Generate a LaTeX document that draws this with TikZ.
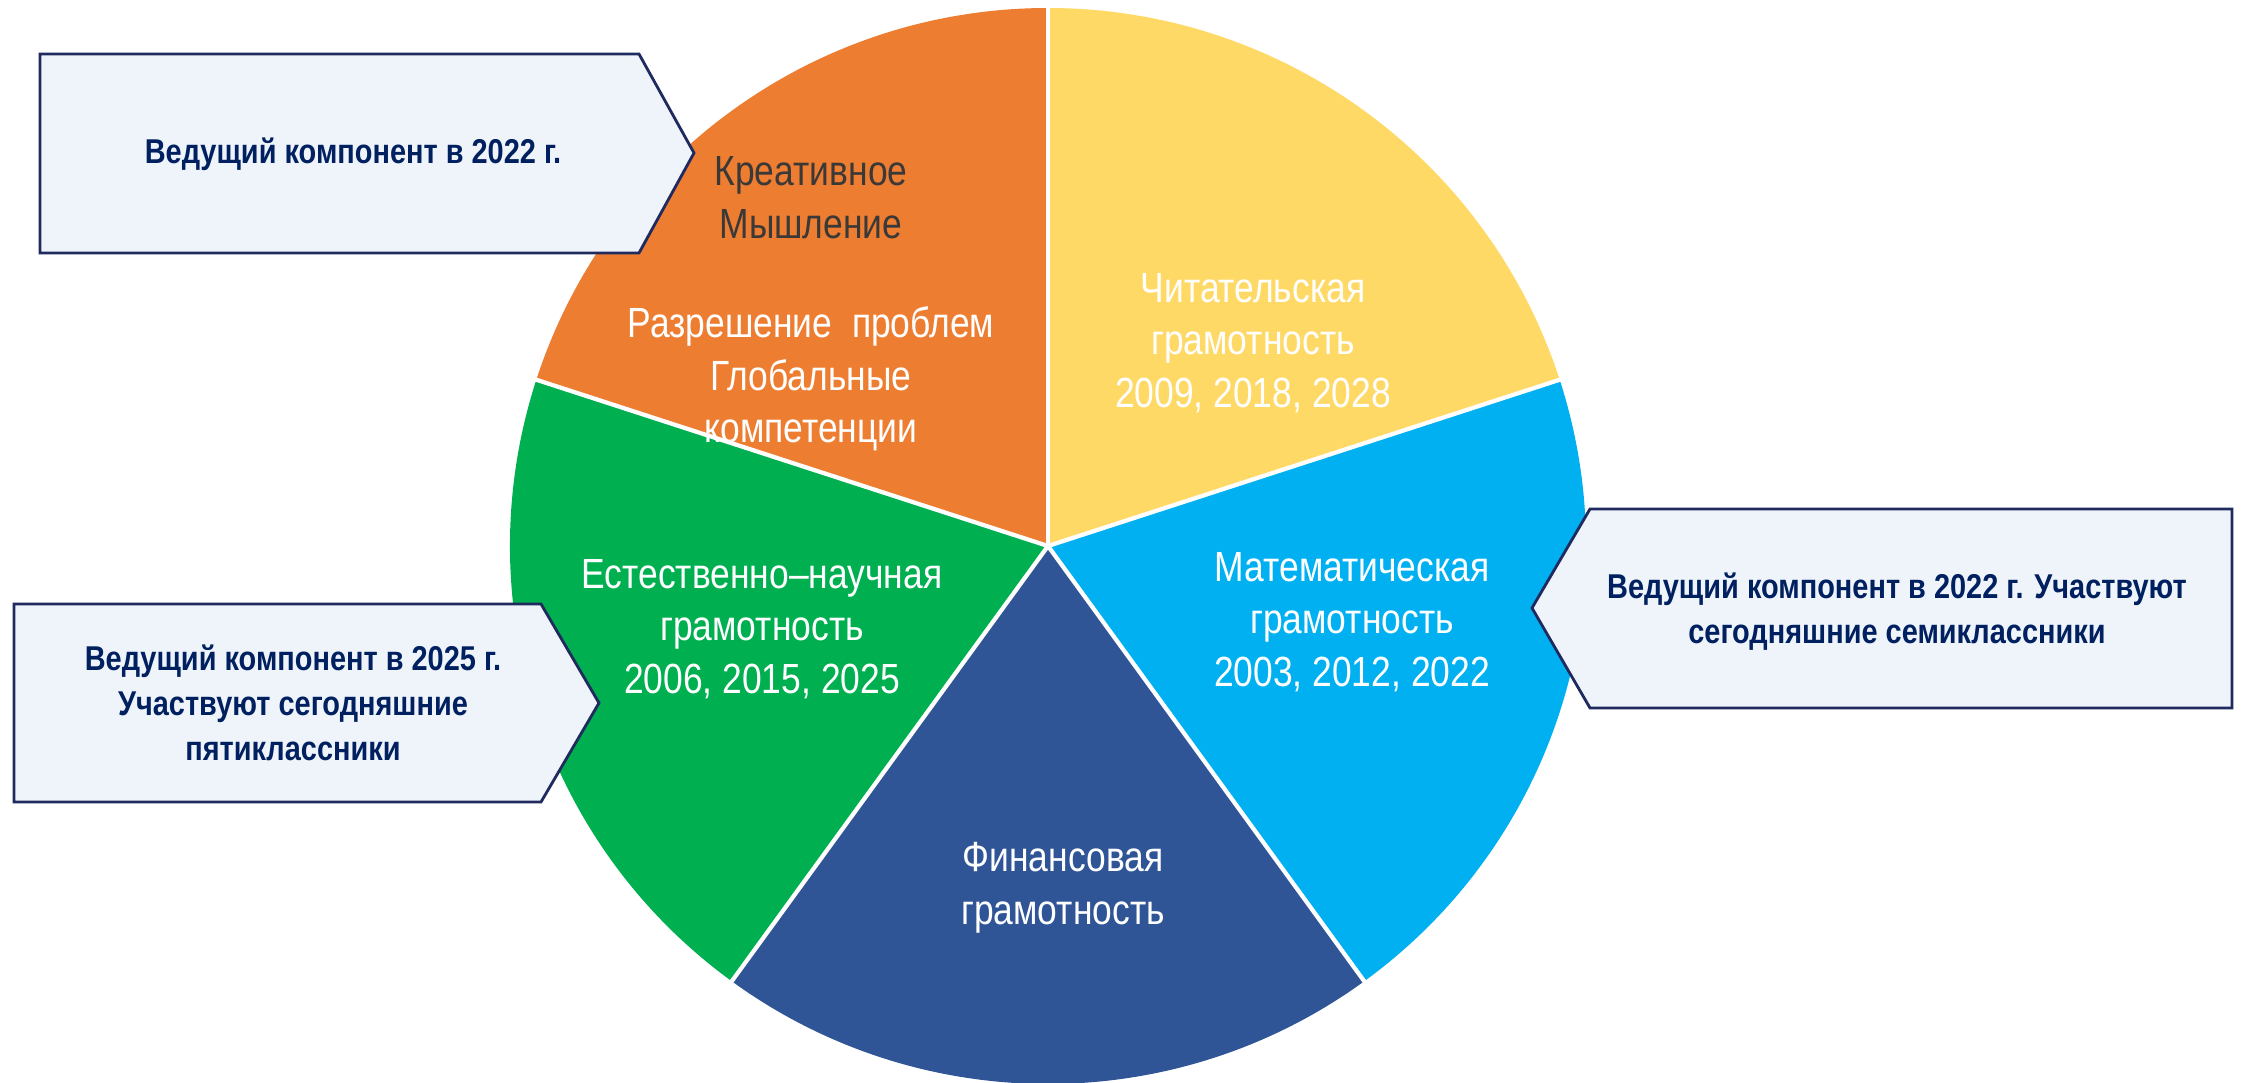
\documentclass[tikz,border=0pt]{standalone}
\usepackage{fontspec}
\setmainfont{Liberation Sans}[FakeStretch=0.84]
\usepackage{tikz}
\usepackage{color}

\definecolor{kreaorange}{HTML}{ED7D31}
\definecolor{chityellow}{HTML}{FFD966}
\definecolor{mathblue}{HTML}{00B0F0}
\definecolor{finblue}{HTML}{2F5597}
\definecolor{sciegreen}{HTML}{00B050}
\definecolor{calloutfill}{HTML}{EFF4FB}
\definecolor{navyline}{HTML}{1F2A5E}
\definecolor{navytext}{HTML}{002060}
\definecolor{darkgraytext}{HTML}{3B3838}

\tikzset{
  sectortext/.style={text=white, align=center, font=\fontsize{12}{15}\selectfont},
  callout/.style={draw=navyline, fill=calloutfill, line width=0.8pt, line join=miter},
  callouttext/.style={text=navytext, align=center, font=\bfseries\fontsize{9.8}{12.8}\selectfont}
}

\begin{document}
\begin{tikzpicture}
\useasboundingbox (0,0) rectangle (22.42,10.82);
\coordinate (O) at (10.48,5.36);

% pie sectors
\fill[kreaorange] (O) -- ++(90:5.38) arc[start angle=90, end angle=162, radius=5.38] -- cycle;
\fill[chityellow] (O) -- ++(18:5.38) arc[start angle=18, end angle=90, radius=5.38] -- cycle;
\fill[mathblue] (O) -- ++(-54:5.38) arc[start angle=-54, end angle=18, radius=5.38] -- cycle;
\fill[finblue] (O) -- ++(-126:5.38) arc[start angle=-126, end angle=-54, radius=5.38] -- cycle;
\fill[sciegreen] (O) -- ++(162:5.38) arc[start angle=162, end angle=234, radius=5.38] -- cycle;
\foreach \a in {90,18,-54,-126,162}
  \draw[white, line width=1.2pt] (O) -- ++(\a:5.42);

% sector labels
\node[sectortext, text=darkgraytext] (kreativ) at (8.11,8.84) {Креативное\\Мышление};
\node[sectortext] (global) at (8.11,7.03) {Разрешение\ \ проблем\\Глобальные\\компетенции};
\node[sectortext] (chit) at (12.53,7.39) {Читательская\\грамотность\\2009, 2018, 2028};
\node[sectortext] (math) at (13.52,4.60) {Математическая\\грамотность\\2003, 2012, 2022};
\node[sectortext] (estest) at (7.62,4.53) {Естественно–научная\\грамотность\\2006, 2015, 2025};
\node[sectortext] (fin) at (10.63,1.94) {Финансовая\\грамотность};

% callouts
\draw[callout] (0.40,10.28) -- (6.39,10.28) -- (6.94,9.29) -- (6.39,8.29) -- (0.40,8.29) -- cycle;
\node[callouttext] (lead22) at (3.53,9.28) {Ведущий компонент в 2022 г.};

\draw[callout] (15.90,5.73) -- (22.32,5.73) -- (22.32,3.74) -- (15.90,3.74) -- (15.32,4.74) -- cycle;
\node[callouttext] (lead22sem) at (18.97,4.70) {Ведущий компонент в 2022 г. Участвуют\\сегодняшние семиклассники};

\draw[callout] (0.14,4.78) -- (5.41,4.78) -- (5.99,3.79) -- (5.41,2.80) -- (0.14,2.80) -- cycle;
\node[callouttext] (lead25) at (2.93,3.79) {Ведущий компонент в 2025 г.\\Участвуют сегодняшние\\пятиклассники};
\end{tikzpicture}
\end{document}
